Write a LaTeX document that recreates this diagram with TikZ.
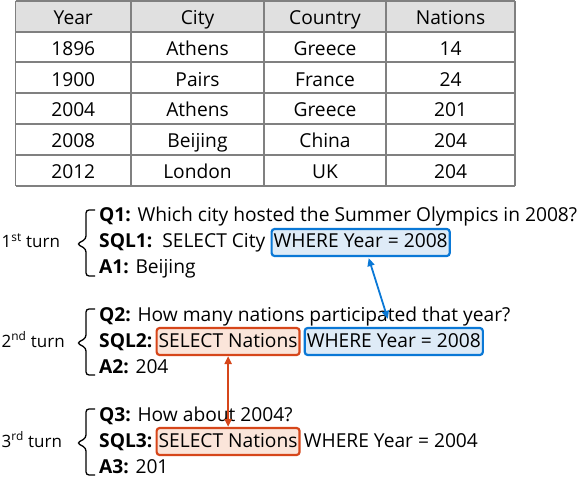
\documentclass[tikz,border=0pt]{standalone}
\usepackage{fontspec}
\setmainfont{Open Sans}
\usetikzlibrary{arrows.meta,positioning}

\definecolor{tabline}{HTML}{808080}
\definecolor{tabhead}{HTML}{E0E0E0}
\definecolor{sqlblue}{HTML}{0A78D6}
\definecolor{sqlbluefill}{HTML}{DEEBF7}
\definecolor{sqlred}{HTML}{D6461A}
\definecolor{sqlredfill}{HTML}{FBE5DA}

\begin{document}
\begin{tikzpicture}[x=1pt,y=-1pt,
  font=\fontsize{19.2}{22}\selectfont,
  txt/.style={anchor=base west, inner sep=0pt},
  cell/.style={anchor=base, inner sep=0pt},
  turnlabel/.style={anchor=base west, inner sep=0pt, font=\fontsize{17}{20}\selectfont},
  hlbox/.style={anchor=base west, rounded corners=3pt, line width=2.2pt,
    inner xsep=2pt, inner ysep=2pt, text height=17pt, text depth=6pt},
  bluebox/.style={hlbox, draw=sqlblue, fill=sqlbluefill},
  redbox/.style={hlbox, draw=sqlred, fill=sqlredfill},
  link/.style={{Triangle[length=8pt,width=7pt]}-{Triangle[length=8pt,width=7pt]}, line width=1.8pt},
  turnbrace/.style={line width=1.3pt, rounded corners=3pt}
]
\useasboundingbox (0,0) rectangle (578,478);

% Table = header row + five games
\fill[tabhead] (15.5,1) rectangle (515,32);
\foreach \y in {1,32,62,93,124,155,186}
  \draw[tabline, line width=1.5pt] (15.5,\y) -- (515,\y);
\foreach \x in {15.5,131,264,386,515}
  \draw[tabline, line width=1.5pt] (\x,1) -- (\x,186);

\node[cell] (hyear) at (73.25,24.5) {Year};
\node[cell] (hcity) at (197.5,24.5) {City};
\node[cell] (hcountry) at (325,24.5) {Country};
\node[cell] (hnations) at (450.5,24.5) {Nations};
\foreach \yr/\city/\ctry/\nat [count=\i] in {1896/Athens/Greece/14,
    1900/Pairs/France/24, 2004/Athens/Greece/201,
    2008/Beijing/China/204, 2012/London/UK/204} {
  \node[cell] (year\i) at (73.25,24.5+30.8*\i) {\yr};
  \node[cell] (city\i) at (197.5,24.5+30.8*\i) {\city};
  \node[cell] (country\i) at (325,24.5+30.8*\i) {\ctry};
  \node[cell] (nations\i) at (450.5,24.5+30.8*\i) {\nat};
}

% 1st turn
\node[turnlabel] (turn1) at (1.5,248) {1\textsuperscript{st} turn};
\draw[turnbrace] (95,210) -- (86,210) -- (86,239) -- (77,244) -- (86,249) -- (86,276) -- (95,276);
\node[txt] (q1) at (99,222) {\textbf{Q1:} Which city hosted the Summer Olympics in 2008?};
\node[txt] (sql1) at (99,248) {\textbf{SQL1:}\ \ SELECT City};
\node[bluebox] (where1) at ([xshift=5pt]sql1.base east) {WHERE Year = 2008\hspace{6pt}};
\node[txt] (a1) at (99,274) {\textbf{A1:} Beijing};

% 2nd turn
\node[turnlabel] (turn2) at (1.5,347) {2\textsuperscript{nd} turn};
\draw[turnbrace] (95,309) -- (86,309) -- (86,338) -- (77,343) -- (86,348) -- (86,375) -- (95,375);
\node[txt] (q2) at (99,321) {\textbf{Q2:} How many nations participated that year?};
\node[txt] (sql2) at (99,347) {\textbf{SQL2:}};
\node[redbox] (select2) at ([xshift=3pt]sql2.base east) {SELECT Nations};
\node[bluebox] (where2) at ([xshift=3pt]select2.base east) {WHERE Year = 2008\hspace{6pt}};
\node[txt] (a2) at (99,373) {\textbf{A2:} 204};

% 3rd turn
\node[turnlabel] (turn3) at (1.5,447) {3\textsuperscript{rd} turn};
\draw[turnbrace] (95,409) -- (86,409) -- (86,438) -- (77,443) -- (86,448) -- (86,475) -- (95,475);
\node[txt] (q3) at (99,421) {\textbf{Q3:} How about 2004?};
\node[txt] (sql3) at (99,447) {\textbf{SQL3:}};
\node[redbox] (select3) at ([xshift=3pt]sql3.base east) {SELECT Nations};
\node[txt] (rest3) at ([xshift=3pt]select3.base east) {WHERE Year = 2004};
\node[txt] (a3) at (99,473) {\textbf{A3:} 201};

% Links between shared clauses
\draw[link, sqlblue] ([xshift=8pt,yshift=-1pt]where1.south) -- ([xshift=-6pt,yshift=8pt]where2.north);
\draw[link, sqlred, line width=2pt] (select2.south) -- (select3.north);

\end{tikzpicture}
\end{document}
